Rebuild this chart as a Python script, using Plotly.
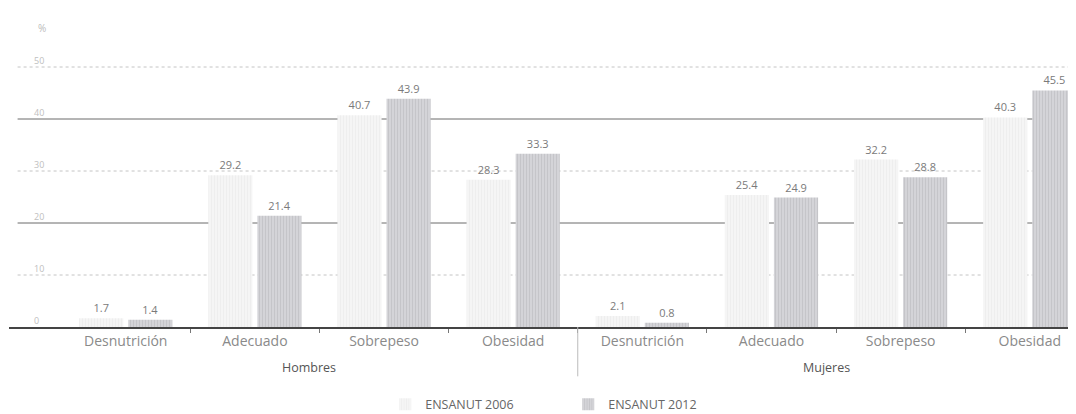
import plotly.graph_objects as go

# ---- data ----
categories = ["Desnutrición", "Adecuado", "Sobrepeso", "Obesidad",
              "Desnutrición", "Adecuado", "Sobrepeso", "Obesidad"]
groups = ["Hombres"] * 4 + ["Mujeres"] * 4
series_names = ["ENSANUT 2006", "ENSANUT 2012"]
v2006 = [1.7, 29.2, 40.7, 28.3, 2.1, 25.4, 32.2, 40.3]
v2012 = [1.4, 21.4, 43.9, 33.3, 0.8, 24.9, 28.8, 45.5]
y_ticks = [0, 10, 20, 30, 40, 50]
y_unit = "%"

xs = list(range(len(categories)))
FONT = "Open Sans"

fig = go.Figure()
fig.add_trace(go.Bar(
    x=xs, y=v2006, name=series_names[0],
    marker=dict(color="#f5f5f5", line=dict(width=0),
                pattern=dict(shape="|", fgcolor="#e4e4e4", size=3, solidity=0.3)),
    text=[f"{v:.1f}" for v in v2006], textposition="outside",
    textfont=dict(color="#7a7a7a", size=11, family=FONT), cliponaxis=False,
))
fig.add_trace(go.Bar(
    x=xs, y=v2012, name=series_names[1],
    marker=dict(color="#d4d4d8", line=dict(width=0),
                pattern=dict(shape="|", fgcolor="#b6b6ba", size=3, solidity=0.35)),
    text=[f"{v:.1f}" for v in v2012], textposition="outside",
    textfont=dict(color="#7a7a7a", size=11, family=FONT), cliponaxis=False,
))

# gridlines as shapes (alternating tone like the reference)
for t in y_ticks[1:]:
    dark = (t % 20 == 0)
    fig.add_shape(type="line", xref="paper", yref="y", x0=0.008, x1=1, y0=t, y1=t,
                  layer="below",
                  line=dict(color="#6a6a6a" if dark else "#c4c4c4",
                            width=1, dash="solid" if dark else "dot"))

# group labels and separator
group_names = []
for g in groups:
    if g not in group_names:
        group_names.append(g)
for g in group_names:
    idx = [i for i, gg in enumerate(groups) if gg == g]
    fig.add_annotation(x=sum(idx) / len(idx), y=0, xref="x", yref="y",
                       text=g, showarrow=False, yshift=-40, xshift=-10,
                       font=dict(size=12.5, color="#555555", family=FONT))
for i in range(1, len(groups)):
    if groups[i] != groups[i - 1]:
        b = i - 0.5
        fig.add_shape(type="line", xref="x", yref="paper", x0=b, x1=b,
                      y0=0, y1=-0.165, line=dict(color="#bbbbbb", width=1))

fig.add_annotation(x=0.025, y=1.0, xref="paper", yref="paper", text=y_unit,
                   showarrow=False, yanchor="middle",
                   font=dict(size=10, color="#bbbbbb", family=FONT))

fig.update_layout(
    width=1076, height=414,
    margin=dict(l=1, r=0, t=20, b=95, autoexpand=False),
    paper_bgcolor="white", plot_bgcolor="white",
    barmode="group", bargap=0.24, bargroupgap=0.1,
    font=dict(family=FONT, color="#777777"),
    showlegend=True,
    legend=dict(orientation="h", x=0.35, xanchor="left", y=-0.26,
                yanchor="middle", font=dict(size=12.5, color="#666666", family=FONT),
                entrywidth=138, entrywidthmode="pixels", traceorder="normal"),
    xaxis=dict(
        automargin=False,
        range=[-0.904, 7.42],
        tickmode="array", tickvals=xs, ticktext=categories,
        ticks="", showgrid=False, zeroline=False,
        showline=True, linecolor="#444444", linewidth=1.5,
        tickfont=dict(size=14, color="#8a8a8a", family=FONT),
        minor=dict(tickmode="array", tickvals=[i - 0.5 for i in xs[1:]],
                   ticks="outside", ticklen=4, tickcolor="#777777", showgrid=False),
    ),
    yaxis=dict(
        automargin=False,
        range=[0, 57.5], tickmode="array", tickvals=y_ticks,
        ticktext=[str(t) for t in y_ticks],
        showgrid=False, zeroline=False, showline=False,
        ticklabelposition="inside top", ticklabelstandoff=22,
        tickfont=dict(size=9, color="#c0c0c0", family=FONT),
    ),
)

fig.write_html("out.html")
